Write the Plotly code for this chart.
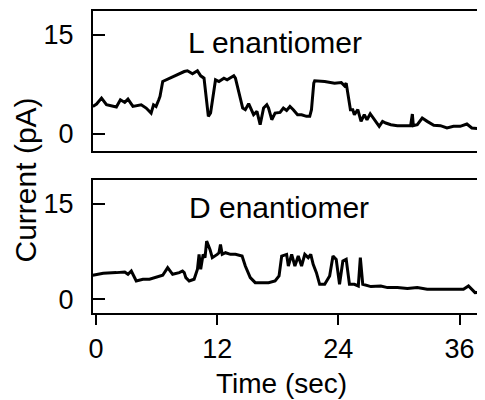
import plotly.graph_objects as go

# Time (s) and current (pA) for the L enantiomer trace
t_L = [-0.31, 0.06, 0.55, 1.04, 2.02, 2.42, 2.85, 3.17, 3.66, 4.15, 4.48, 4.97, 5.46, 5.70,
       5.95, 6.22, 6.34, 6.61, 7.27, 7.92, 8.74, 9.06, 9.56, 10.05, 10.37, 10.70, 10.93, 11.13,
       11.35, 11.84, 12.18, 12.67, 12.99, 13.65, 13.81, 14.30, 14.53, 14.79, 15.12, 15.61,
       15.94, 16.26, 16.60, 16.92, 17.09, 17.41, 17.74, 18.23, 18.56, 18.88, 19.21, 19.54,
       19.96, 20.36, 20.85, 21.17, 21.34, 21.57, 21.66, 22.65, 23.63, 24.29, 24.61, 24.78,
       25.04, 25.20, 25.43, 25.59, 25.93, 26.25, 26.57, 26.84, 27.16, 27.50, 27.82, 28.05,
       28.38, 28.70, 29.20, 29.85, 30.67, 31.16, 31.33, 31.43, 31.82, 32.31, 32.80, 33.45,
       34.11, 34.76, 35.41, 36.07, 36.73, 37.22, 38.23]
i_L = [4.14, 4.50, 5.40, 4.39, 4.04, 5.15, 4.75, 5.25, 4.14, 4.24, 4.39, 3.89, 3.13, 4.39,
       4.14, 5.15, 5.66, 7.93, 8.43, 8.94, 9.44, 9.55, 9.09, 9.55, 8.79, 8.43, 5.15, 2.63,
       3.13, 8.18, 7.93, 8.43, 8.18, 8.79, 8.43, 5.15, 3.89, 3.64, 4.55, 2.88,
       3.38, 1.36, 3.89, 4.39, 3.89, 2.12, 3.13, 3.23, 3.89, 3.54, 4.14, 3.64,
       2.88, 2.88, 2.63, 2.63, 3.64, 7.68, 8.03, 7.93, 7.68, 7.78, 7.27, 7.68,
       5.15, 3.64, 3.64, 2.88, 3.64, 1.87, 2.88, 2.12, 3.03, 2.37, 1.62, 1.11,
       1.87, 1.62, 1.36, 1.21, 1.21, 1.21, 2.98, 1.21, 1.36, 2.37, 1.87, 1.26,
       1.21, 0.86, 1.11, 1.11, 1.46, 0.86, 0.71]

# Time (s) and current (pA) for the D enantiomer trace
t_D = [-0.31, 0.72, 2.02, 2.85, 3.17, 3.50, 3.99, 4.65, 5.30, 5.95, 6.61, 7.10, 7.59, 8.25,
       8.57, 8.74, 8.90, 9.23, 9.72, 10.05, 10.21, 10.37, 10.61, 10.80, 10.96, 11.29, 11.52,
       12.01, 12.18, 12.33, 12.50, 12.83, 13.32, 13.81, 14.47, 14.79, 15.28, 15.77, 16.43,
       17.09, 17.74, 18.13, 18.39, 18.88, 19.05, 19.38, 19.70, 20.03, 20.36, 20.68, 21.02,
       21.27, 21.51, 21.83, 22.15, 22.65, 23.14, 23.47, 23.79, 24.12, 24.45, 24.78, 25.10,
       25.59, 25.98, 26.18, 26.42, 27.23, 28.21, 28.87, 29.85, 30.84, 31.82, 32.80, 34.11,
       35.41, 36.39, 36.89, 37.54, 38.23]
i_D = [3.75, 4.06, 4.17, 4.27, 3.91, 4.43, 2.86, 3.13, 3.13, 3.39, 3.75, 4.95, 3.91, 4.17,
       4.43, 4.17, 3.39, 2.86, 3.13, 4.69, 7.03, 4.69, 7.03, 6.51, 9.11, 7.81, 6.51,
       7.03, 7.29, 8.59, 7.03, 7.29, 7.03, 7.03, 6.77, 5.21, 3.39, 2.60, 2.60,
       2.60, 2.86, 3.65, 6.77, 7.03, 5.21, 7.03, 5.21, 6.77, 5.21, 7.03, 6.51,
       7.03, 5.47, 4.17, 2.34, 2.34, 3.65, 6.77, 6.25, 2.34, 5.99, 6.25, 2.34,
       2.34, 2.08, 6.51, 2.34, 1.98, 2.08, 1.82, 1.82, 1.67, 1.82, 1.56, 1.56,
       1.56, 1.56, 2.08, 1.04, 1.15]

x_ticks = [0, 12, 24, 36]
y_ticks = [0, 15]
panel_titles = ["L enantiomer", "D enantiomer"]
x_title = "Time (sec)"
y_title = "Current (pA)"

FONT = "Liberation Sans, Arial, Helvetica, sans-serif"

fig = go.Figure()
fig.add_trace(go.Scatter(x=t_L, y=i_L, mode="lines", line=dict(color="black", width=3),
                         xaxis="x", yaxis="y", showlegend=False))
fig.add_trace(go.Scatter(x=t_D, y=i_D, mode="lines", line=dict(color="black", width=3),
                         xaxis="x2", yaxis="y2", showlegend=False))

xr = [-0.31, 38.23]
common_x = dict(range=xr, domain=[0.1709, 0.9937], showline=True, mirror=True,
                linecolor="black", linewidth=2, showgrid=False, zeroline=False)
common_y = dict(showline=True, mirror=True, linecolor="black", linewidth=2,
                showgrid=False, zeroline=False, tickvals=y_ticks, ticks="inside",
                ticklen=12, tickwidth=2, tickcolor="black",
                tickfont=dict(family=FONT, size=27, color="black"), ticklabelstandoff=12)

fig.update_layout(
    width=477, height=392, autosize=False,
    margin=dict(l=0, r=0, t=0, b=0),
    paper_bgcolor="white", plot_bgcolor="white",
    xaxis=dict(**common_x, anchor="y", showticklabels=False, ticks=""),
    yaxis=dict(**common_y, domain=[0.6352, 0.9923], range=[-2.58, 18.64], anchor="x"),
    xaxis2=dict(**common_x, anchor="y2", tickvals=x_ticks, ticks="outside", ticklen=10,
                tickwidth=2, tickcolor="black",
                tickfont=dict(family=FONT, size=27, color="black")),
    yaxis2=dict(**common_y, domain=[0.2194, 0.5612], range=[-2.19, 18.75], anchor="x2"),
    annotations=[
        dict(text=panel_titles[0], x=0.5556, y=0.9107, xref="paper", yref="paper",
             showarrow=False, font=dict(family=FONT, size=30, color="black"),
             xanchor="center", yanchor="middle"),
        dict(text=panel_titles[1], x=0.5639, y=0.4898, xref="paper", yref="paper",
             showarrow=False, font=dict(family=FONT, size=30, color="black"),
             xanchor="center", yanchor="middle"),
        dict(text=y_title, x=0.0294, y=0.5612, xref="paper", yref="paper",
             textangle=-90, showarrow=False, font=dict(family=FONT, size=30, color="black"),
             xanchor="center", yanchor="middle"),
        dict(text=x_title, x=0.5702, y=0.0395, xref="paper", yref="paper",
             showarrow=False, font=dict(family=FONT, size=28, color="black"),
             xanchor="center", yanchor="middle"),
    ],
)

fig.write_html("out.html")
